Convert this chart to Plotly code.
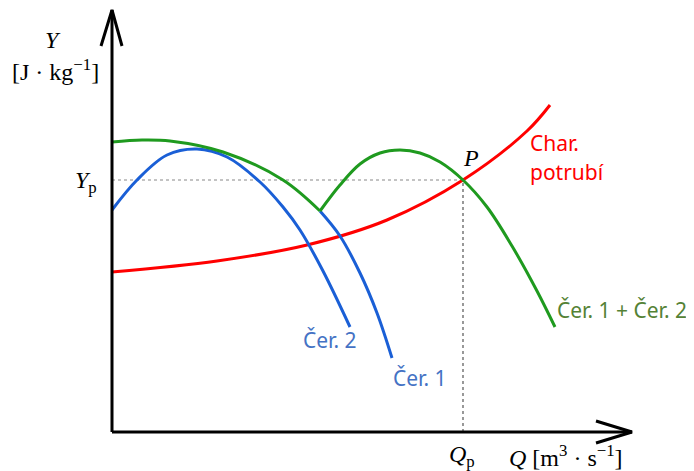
import plotly.graph_objects as go

# Data (Q, Y in arbitrary schematic units)
red_q = [0, 105, 195, 275, 351, 415, 438]
red_y = [160, 171, 187, 212, 252, 301, 327]

green_left_q = [0, 30, 58, 111, 171, 208]
green_left_y = [290, 292, 291, 280, 252, 221]
green_right_q = [208, 228, 248, 268, 288, 308, 328, 351, 375, 400, 425, 443]
green_right_y = [221, 247, 268, 279, 282, 279, 270, 252, 225, 186, 141, 105]

cer2_q = [0, 25, 55, 85, 115, 148, 171, 188, 211, 238]
cer2_y = [222, 252, 277, 283, 275, 250, 225, 202, 161, 105]

cer1_q = [208, 228, 248, 265, 280]
cer1_y = [221, 196, 159, 119, 74]

P_q, P_y = 351, 252

RED = "#ff0000"
GREEN = "#1f9a1f"
BLUE = "#1a5fd6"
BLUE_T = "#4472c4"
GREEN_T = "#548235"

fig = go.Figure()

def line(x, y, color, width=3, dash=None, shape="spline"):
    fig.add_trace(go.Scatter(x=x, y=y, mode="lines",
                             line=dict(color=color, width=width, dash=dash, shape=shape),
                             hoverinfo="skip", showlegend=False))

# dashed guides
line([0, P_q], [P_y, P_y], "#888888", 1.2, "dot", "linear")
line([P_q, P_q], [0, P_y], "#555555", 1.2, "dot", "linear")

line(red_q, red_y, RED)
line(cer2_q, cer2_y, BLUE)
line(cer1_q, cer1_y, BLUE)
line(green_left_q, green_left_y, GREEN)
line(green_right_q, green_right_y, GREEN)

# axes with open arrowheads
line([0, 0], [0, 422], "black", 3, None, "linear")
line([0, 520], [0, 0], "black", 3, None, "linear")
line([-11, 0, 10], [386, 422, 386], "black", 3, None, "linear")
line([484, 520, 484], [11, 0, -11], "black", 3, None, "linear")

MATH = dict(family="Liberation Serif", size=24, color="black")
SANS = "Noto Sans"
SZ = 21

ann = [
    dict(x=-59, y=392, text="<i>Y</i>", font=MATH),
    dict(x=-57, y=362, text="[J · kg<sup>−1</sup>]", font=MATH),
    dict(x=-26, y=250, text="<i>Y</i><sub>p</sub>", font=MATH),
    dict(x=349, y=274, text="<i>P</i>", font=MATH, xanchor="left"),
    dict(x=350, y=-24, text="<i>Q</i><sub>p</sub>", font=MATH),
    dict(x=454, y=-24, text="<i>Q</i> [m<sup>3</sup> · s<sup>−1</sup>]", font=MATH),
    dict(x=416, y=289, text="Char.", xanchor="left", font=dict(family=SANS, size=SZ, color=RED)),
    dict(x=416, y=260, text="potrubí", xanchor="left", font=dict(family=SANS, size=SZ, color=RED)),
    dict(x=218, y=92, text="Čer. 2", font=dict(family=SANS, size=SZ, color=BLUE_T)),
    dict(x=308, y=54, text="Čer. 1", font=dict(family=SANS, size=SZ, color=BLUE_T)),
    dict(x=510, y=122, text="Čer. 1 + Čer. 2", font=dict(family=SANS, size=SZ, color=GREEN_T)),
]
for a in ann:
    a.setdefault("xanchor", "center")
    a["yanchor"] = "middle"
    a["showarrow"] = False
    fig.add_annotation(**a)

fig.update_layout(
    width=694, height=471,
    margin=dict(l=0, r=0, t=0, b=0),
    plot_bgcolor="white", paper_bgcolor="white",
    xaxis=dict(visible=False, range=[-104, 590], fixedrange=True),
    yaxis=dict(visible=False, range=[-47, 424], fixedrange=True),
)
fig.write_html("out.html")
